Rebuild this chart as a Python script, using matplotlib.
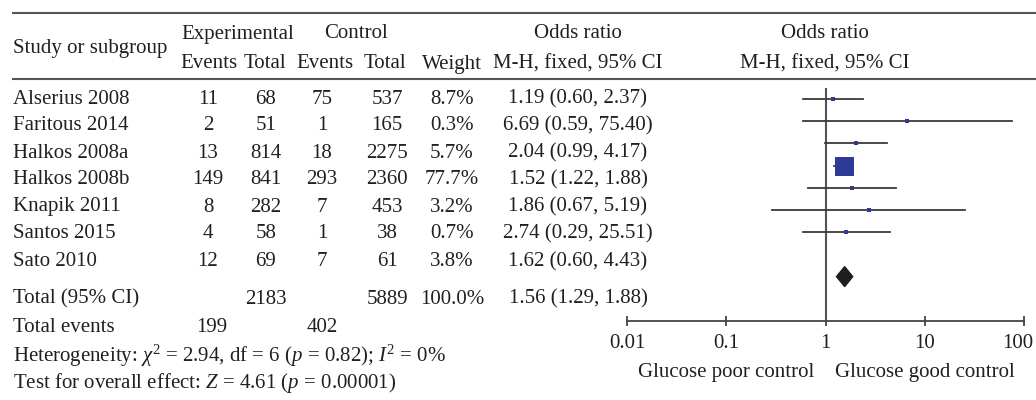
# forest plot: glucose control and odds ratio

import matplotlib
matplotlib.use('Agg')
import matplotlib.pyplot as plt
from matplotlib.patches import Polygon
from matplotlib.transforms import blended_transform_factory, ScaledTranslation

# data
studies = ['Alserius 2008', 'Faritous 2014', 'Halkos 2008a', 'Halkos 2008b',
           'Knapik 2011', 'Santos 2015', 'Sato 2010']
exp_events = [11, 2, 13, 149, 8, 4, 12]
exp_total = [68, 51, 814, 841, 282, 58, 69]
ctrl_events = [75, 1, 18, 293, 7, 1, 7]
ctrl_total = [537, 165, 2275, 2360, 453, 38, 61]
weights = [8.7, 0.3, 5.7, 77.7, 3.2, 0.7, 3.8]
odds = [1.19, 6.69, 2.04, 1.52, 1.86, 2.74, 1.62]
ci_low = [0.60, 0.59, 0.99, 1.22, 0.67, 0.29, 0.60]
ci_high = [2.37, 75.40, 4.17, 1.88, 5.19, 25.51, 4.43]

total_exp = 2183
total_ctrl = 5889
total_weight = 100.0
total_events_exp = 199
total_events_ctrl = 402
total_or = 1.56
total_low = 1.29
total_high = 1.88

ticks = [0.01, 0.1, 1, 10, 100]
tick_labels = ['0.01', '0.1', '1', '10', '100']

plt.rcParams['font.family'] = ['Liberation Serif', 'DejaVu Serif']
plt.rcParams['mathtext.fontset'] = 'custom'
plt.rcParams['mathtext.rm'] = 'Liberation Serif'
plt.rcParams['mathtext.it'] = 'Liberation Serif:italic'

txt = '#231f20'
line_c = '#555555'
blue = '#2e3a96'
fs = 15

W, H = 1036, 400
fig = plt.figure(figsize=(W / 100, H / 100), dpi=100)

# table axes in pixel coordinates
tab = fig.add_axes([0, 0, 1, 1])
tab.set_xlim(0, W)
tab.set_ylim(H, 0)
tab.axis('off')

# rules
tab.plot([13, W], [13, 13], color=line_c, lw=1.5)
tab.plot([13, W], [79, 79], color=line_c, lw=1.5)

# text helper, y is the visual centre of the line
def t(x, y, s, ha='center'):
    tab.text(x, y + 2, s, ha=ha, va='center', fontsize=fs, color=txt)

# header
t(13, 47, 'Study or subgroup', ha='left')
t(238, 32, 'Experimental')
t(356, 32, 'Control')
t(578, 32, 'Odds ratio')
t(825, 32, 'Odds ratio')
for x, s in zip([209, 265, 325, 385, 452], ['Events', 'Total', 'Events', 'Total', 'Weight']):
    t(x, 62, s)
t(578, 62, 'M-H, fixed, 95% CI')
t(825, 62, 'M-H, fixed, 95% CI')

# study rows
row_y = [97, 124, 151, 178, 205, 232, 260]
for i, y in enumerate(row_y):
    t(13, y, studies[i], ha='left')
    t(208, y, str(exp_events[i]))
    t(266, y, str(exp_total[i]))
    t(322, y, str(ctrl_events[i]))
    t(387, y, str(ctrl_total[i]))
    t(452, y, '%.1f%%' % weights[i])
    t(578, y, '%.2f (%.2f, %.2f)' % (odds[i], ci_low[i], ci_high[i]))

# totals
t(13, 297, 'Total (95% CI)', ha='left')
t(266, 297, str(total_exp))
t(387, 297, str(total_ctrl))
t(452, 297, '%.1f%%' % total_weight)
t(578, 297, '%.2f (%.2f, %.2f)' % (total_or, total_low, total_high))
t(13, 325, 'Total events', ha='left')
t(212, 325, str(total_events_exp))
t(322, 325, str(total_events_ctrl))
t(13, 354, r'Heterogeneity: $\chi^2$ = 2.94, df = 6 ($p$ = 0.82); $I^2$ = 0%', ha='left')
t(13, 381, r'Test for overall effect: $Z$ = 4.61 ($p$ = 0.00001)', ha='left')

# forest plot
ax = fig.add_axes([627 / W, 1 - 321 / H, 397 / W, (321 - 88) / H])
ax.set_xscale('log')
ax.set_xlim(0.01, 100)
ax.set_ylim(10.0, -0.5)
ax.patch.set_alpha(0)

ax.axvline(1, color=line_c, lw=1.5)
for i in range(len(studies)):
    ax.plot([ci_low[i], ci_high[i]], [i, i], color='#3a3a3a', lw=1.3)
    side = 3 + 16 * weights[i] / max(weights)
    ax.plot(odds[i], i, marker='s', ms=side * 0.72, color=blue, mec=blue, mew=0)

d = len(studies) + 1
ax.add_patch(Polygon([[total_low, d], [total_or, d - 0.45], [total_high, d], [total_or, d + 0.45]],
                     closed=True, color='#1e1e1e'))

for s in ['top', 'left', 'right']:
    ax.spines[s].set_visible(False)
ax.spines['bottom'].set_color('#444444')
ax.spines['bottom'].set_linewidth(1.3)
ax.set_yticks([])
ax.set_xticks(ticks)
ax.set_xticklabels(tick_labels)
ax.minorticks_off()
ax.tick_params(axis='x', direction='inout', length=7, width=1.3, color='#444444',
               labelsize=fs, labelcolor=txt, pad=6)
# keep the last label inside the picture
last = ax.get_xticklabels()[-1]
last.set_transform(last.get_transform() + ScaledTranslation(-6 / 100, 0, fig.dpi_scale_trans))

tr = blended_transform_factory(ax.transData, tab.transData)
ax.text(0.1, 372, 'Glucose poor control', transform=tr, ha='center', va='center', fontsize=fs, color=txt)
ax.text(10, 372, 'Glucose good control', transform=tr, ha='center', va='center', fontsize=fs, color=txt)

plt.savefig('out.png', dpi=100)
